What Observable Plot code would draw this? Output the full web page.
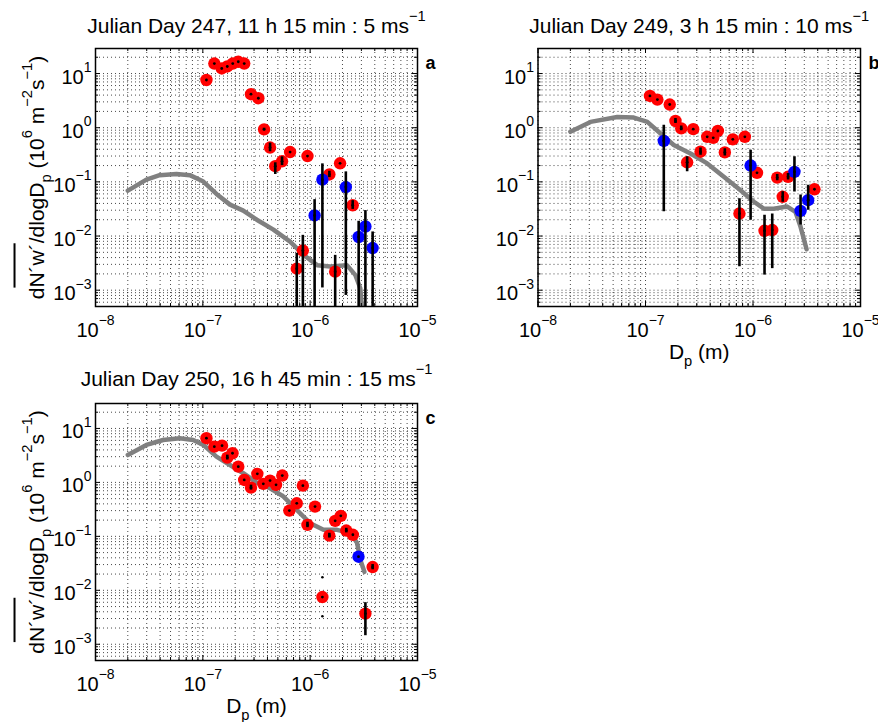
<!DOCTYPE html>
<html><head><meta charset="utf-8">
<script src="https://cdn.jsdelivr.net/npm/d3@7"></script>
<script src="https://cdn.jsdelivr.net/npm/@observablehq/plot@0.6"></script>
<style>
body{margin:0;background:#fff}
#wrap{position:relative;width:878px;height:722px;background:#fff}
#wrap svg{position:absolute;overflow:visible}
</style>
</head><body><div id="wrap"></div>
<script>
// ---------- axes / labels ----------
const xDomain = [1e-8, 1e-5];
const yDomain = [5e-4, 29];
const xTicks = [1e-8, 1e-7, 1e-6, 1e-5];
const xTickLabels = ["10^{−8}", "10^{−7}", "10^{−6}", "10^{−5}"];
const yTicks = [1e-3, 1e-2, 1e-1, 1e0, 1e1];
const yTickLabels = ["10^{−3}", "10^{−2}", "10^{−1}", "10^{0}", "10^{1}"];
const titles = ["Julian Day 247, 11 h 15 min : 5 ms^{−1}", "Julian Day 249, 3 h 15 min : 10 ms^{−1}", "Julian Day 250, 16 h 45 min : 15 ms^{−1}"];
const letters = ["a", "b", "c"];
const yLabel = "d~{N´w´}/dlogD_{p} (10^{6} m^{−2}s^{−1})";
const xLabel = "D_{p} (m)";

// ---------- panel a ----------
const aGrayD = [2.0e-8, 2.98e-8, 3.96e-8, 5.68e-8, 7.57e-8, 1.0e-7, 1.34e-7, 1.79e-7, 2.38e-7, 3.18e-7, 4.54e-7, 6.5e-7, 8.65e-7, 1.16e-6, 1.54e-6, 2.2e-6, 2.64e-6, 2.93e-6, 3.16e-6];
const aGrayV = [0.069, 0.11, 0.133, 0.14, 0.133, 0.103, 0.060, 0.038, 0.0295, 0.020, 0.0131, 0.0079, 0.0045, 0.0029, 0.00275, 0.0029, 0.0019, 0.00109, 0.0002];
const aRedD  = [1.08e-7, 1.28e-7, 1.50e-7, 1.69e-7, 1.90e-7, 2.14e-7, 2.43e-7, 2.81e-7, 3.29e-7, 3.72e-7, 4.23e-7, 4.73e-7, 5.47e-7, 6.5e-7, 9.44e-7, 1.9e-6, 1.51e-6, 2.49e-6, 8.55e-7, 7.5e-7, 1.71e-6];
const aRedV  = [7.6, 15.3, 12.4, 13.5, 15.3, 16.5, 15.3, 4.16, 3.5, 0.93, 0.43, 0.195, 0.24, 0.355, 0.30, 0.22, 0.137, 0.037, 0.0054, 0.0025, 0.0022];
const aRedLo = [7.6, 15.3, 12.4, 13.5, 15.3, 16.5, 15.3, 4.16, 3.5, 0.88, 0.36, 0.137, 0.2, 0.355, 0.30, 0.22, 0.12, 0.031, 1e-4, 1e-4, 1e-4];
const aRedHi = [7.6, 15.3, 12.4, 13.5, 15.3, 16.5, 15.3, 4.16, 3.5, 0.98, 0.52, 0.225, 0.29, 0.355, 0.30, 0.22, 0.157, 0.045, 0.0103, 0.0048, 0.0044];
const aBlueD  = [1.30e-6, 2.15e-6, 1.10e-6, 3.27e-6, 2.83e-6, 3.82e-6];
const aBlueV  = [0.11, 0.08, 0.024, 0.015, 0.0096, 0.006];
const aBlueLo = [0.0011, 0.0008, 1e-4, 1e-4, 1e-4, 1e-4];
const aBlueHi = [0.215, 0.153, 0.047, 0.0295, 0.0187, 0.0119];

// ---------- panel b ----------
const bGrayD = [2.0e-8, 3.08e-8, 5.46e-8, 7.78e-8, 1.04e-7, 1.38e-7, 1.83e-7, 2.62e-7, 3.75e-7, 5.35e-7, 7.65e-7, 1.02e-6, 1.26e-6, 1.56e-6, 2.08e-6, 2.48e-6, 2.77e-6, 3.15e-6];
const bGrayV = [0.84, 1.28, 1.58, 1.54, 1.28, 0.78, 0.48, 0.334, 0.219, 0.124, 0.070, 0.043, 0.032, 0.032, 0.035, 0.028, 0.0148, 0.0057];
const bRedD  = [1.10e-7, 1.29e-7, 1.68e-7, 1.9e-7, 2.15e-7, 2.78e-7, 3.75e-7, 4.27e-7, 4.71e-7, 6.49e-7, 8.4e-7, 3.25e-7, 5.47e-7, 2.44e-7, 1.09e-6, 1.68e-6, 2.12e-6, 1.89e-6, 3.73e-6, 7.48e-7, 1.28e-6, 1.51e-6];
const bRedV  = [3.86, 3.3, 2.68, 1.33, 0.97, 0.94, 0.68, 0.65, 0.87, 0.61, 0.68, 0.36, 0.35, 0.23, 0.147, 0.12, 0.124, 0.053, 0.073, 0.026, 0.0125, 0.0129];
const bRedLo = [3.86, 3.3, 2.68, 1.2, 0.88, 0.94, 0.68, 0.65, 0.87, 0.61, 0.68, 0.31, 0.30, 0.153, 0.147, 0.105, 0.108, 0.042, 0.073, 0.0027, 0.0019, 0.0025];
const bRedHi = [3.86, 3.3, 2.68, 1.48, 1.07, 0.94, 0.68, 0.65, 0.87, 0.61, 0.68, 0.42, 0.41, 0.29, 0.147, 0.137, 0.142, 0.066, 0.073, 0.049, 0.0243, 0.0254];
const bBlueD  = [1.48e-7, 9.5e-7, 2.43e-6, 3.26e-6, 2.77e-6];
const bBlueV  = [0.57, 0.20, 0.153, 0.046, 0.029];
const bBlueLo = [0.028, 0.0196, 0.065, 0.030, 0.016];
const bBlueHi = [1.11, 0.385, 0.29, 0.087, 0.057];

// ---------- panel c ----------
const cGrayD = [2.0e-8, 2.98e-8, 4.26e-8, 6.1e-8, 8.13e-8, 1.01e-7, 1.34e-7, 1.79e-7, 2.38e-7, 3.18e-7, 4.23e-7, 5.62e-7, 7.5e-7, 1.0e-6, 1.33e-6, 1.78e-6, 2.37e-6, 2.74e-6, 2.93e-6, 3.2e-6];
const cGrayV = [3.23, 4.95, 6.1, 6.6, 6.1, 4.95, 3.0, 2.1, 1.48, 0.99, 0.78, 0.55, 0.31, 0.175, 0.132, 0.132, 0.115, 0.075, 0.037, 0.022];
const cRedD  = [1.08e-7, 1.28e-7, 1.51e-7, 1.89e-7, 1.69e-7, 2.14e-7, 2.43e-7, 2.81e-7, 3.22e-7, 3.66e-7, 4.23e-7, 4.81e-7, 5.5e-7, 8.55e-7, 7.5e-7, 6.4e-7, 1.11e-6, 9.44e-7, 1.51e-6, 1.71e-6, 1.93e-6, 2.17e-6, 2.5e-6, 3.82e-6, 1.30e-6, 3.27e-6];
const cRedV  = [6.6, 4.6, 4.8, 3.47, 2.88, 1.96, 1.11, 0.80, 1.44, 0.94, 1.08, 0.90, 1.34, 0.87, 0.41, 0.30, 0.356, 0.163, 0.103, 0.194, 0.24, 0.128, 0.107, 0.027, 0.0075, 0.0037];
const cRedLo = [6.6, 4.6, 4.8, 3.47, 2.6, 1.96, 1.11, 0.72, 1.44, 0.94, 1.08, 0.90, 1.34, 0.87, 0.41, 0.30, 0.356, 0.145, 0.093, 0.194, 0.24, 0.116, 0.107, 0.024, 0.0075, 0.00144];
const cRedHi = [6.6, 4.6, 4.8, 3.47, 3.2, 1.96, 1.11, 0.89, 1.44, 0.94, 1.08, 0.90, 1.34, 0.87, 0.41, 0.30, 0.356, 0.183, 0.114, 0.194, 0.24, 0.141, 0.107, 0.030, 0.0075, 0.0059];
const cBlueD  = [2.82e-6];
const cBlueV  = [0.042];
const cBlueLo = [0.042];
const cBlueHi = [0.042];
const cCapD = [1.30e-6, 1.30e-6];
const cCapV = [0.0175, 0.0033];

// ---------- helpers ----------
const FONT = "'Liberation Sans', Arial, Helvetica, sans-serif";
const NS = "http://www.w3.org/2000/svg";
const zip = (D, V, Lo, Hi) => D.map((d, i) => ({D: d, v: V[i], lo: Lo ? Lo[i] : V[i], hi: Hi ? Hi[i] : V[i]}));

const xMajor = [], xMinor = [];
for (let e = -8; e <= -6; e++) { xMajor.push(Math.pow(10, e)); for (let m = 2; m <= 9; m++) xMinor.push(m * Math.pow(10, e)); }
xMajor.push(1e-5);
const yMajor = [], yMinor = [];
for (let e = -4; e <= 1; e++) {
  const p = Math.pow(10, e);
  if (p >= yDomain[0] && p <= yDomain[1]) yMajor.push(p);
  for (let m = 2; m <= 9; m++) { const v = m * p; if (v >= yDomain[0] && v <= yDomain[1]) yMinor.push(v); }
}

function panel(cfg) {
  const {W, H, ml, mr, mt, mb, gray, red, blue, caps, title, letter, showY, showX, titleDy} = cfg;
  const fw = W - ml - mr, fh = H - mt - mb;
  const ppdX = fw / Math.log10(xDomain[1] / xDomain[0]);
  const ppdY = fh / Math.log10(yDomain[1] / yDomain[0]);
  const fx = L => Math.pow(10, L / ppdX), fy = L => Math.pow(10, L / ppdY);
  const grid = {stroke: "#000", strokeWidth: 0.9, strokeDasharray: "1,3", strokeOpacity: 0.8};
  const tk = {stroke: "#000", strokeWidth: 1};
  const ticks = (vals, len) => [
    Plot.ruleX(vals, {x: d => d, y1: yDomain[0], y2: yDomain[0] * fy(len), ...tk}),
    Plot.ruleX(vals, {x: d => d, y1: yDomain[1] / fy(len), y2: yDomain[1], ...tk})
  ];
  const ticksY = (vals, len) => [
    Plot.ruleY(vals, {y: d => d, x1: xDomain[0], x2: xDomain[0] * fx(len), ...tk}),
    Plot.ruleY(vals, {y: d => d, x1: xDomain[1] / fx(len), x2: xDomain[1], ...tk})
  ];
  const marks = [
    Plot.ruleX([...xMajor, ...xMinor], {x: d => d, ...grid}),
    Plot.ruleY([...yMajor, ...yMinor], {y: d => d, ...grid}),
    Plot.line(gray, {x: "D", y: "v", stroke: "#808080", strokeWidth: 4.5, clip: true}),
    Plot.dot(red, {x: "D", y: "v", r: 6.2, fill: "#ff0000", stroke: null, clip: true}),
    Plot.dot(blue, {x: "D", y: "v", r: 6.2, fill: "#0000ff", stroke: null, clip: true}),
    Plot.ruleX([...red, ...blue].filter(d => d.hi > d.lo), {x: "D", y1: "lo", y2: "hi", stroke: "#000", strokeWidth: 2.6, clip: true}),
    Plot.dot([...red, ...blue], {x: "D", y: "v", r: 1.4, fill: "#000", stroke: null, clip: true}),
    Plot.dot(caps || [], {x: "D", y: "v", r: 1.3, fill: "#000", stroke: null}),
    ...ticks(xMajor, 5), ...ticks(xMinor, 3),
    ...ticksY(yMajor, 5), ...ticksY(yMinor, 3),
    Plot.frame({stroke: "#000", strokeWidth: 1.5}),
    Plot.text(xTicks, {x: d => d, frameAnchor: "bottom", dy: 30, text: (d, i) => xTickLabels[i], fontSize: 20, textAnchor: "middle"}),
    Plot.text(yTicks, {y: d => d, frameAnchor: "left", dx: -4, dy: 10, text: (d, i) => yTickLabels[i], fontSize: 20, textAnchor: "end"}),
    Plot.text([title], {frameAnchor: "top", dy: titleDy, text: d => d, fontSize: 21, textAnchor: "middle"}),
    Plot.text([letter], {frameAnchor: "top-right", dx: 8, dy: 20, text: d => d, fontSize: 18, fontWeight: "bold", textAnchor: "start"})
  ];
  if (showY) marks.push(Plot.text([yLabel], {frameAnchor: "left", dx: -52, rotate: -90, text: d => d, fontSize: 21, textAnchor: "middle"}));
  if (showX) marks.push(Plot.text([xLabel], {frameAnchor: "bottom", dy: 52, text: d => d, fontSize: 21, textAnchor: "middle"}));
  return Plot.plot({
    width: W, height: H,
    marginLeft: ml, marginRight: mr, marginTop: mt, marginBottom: mb,
    x: {type: "log", domain: xDomain, axis: null},
    y: {type: "log", domain: yDomain, axis: null},
    style: {fontFamily: FONT, background: "transparent", color: "#000", overflow: "visible"},
    marks
  });
}

function parse(s) {
  const segs = []; let i = 0, buf = "";
  while (i < s.length) {
    const c = s[i];
    if ((c === "^" || c === "_" || c === "~") && s[i + 1] === "{") {
      if (buf) segs.push({t: "n", s: buf}); buf = "";
      const j = s.indexOf("}", i);
      segs.push({t: c, s: s.slice(i + 2, j)}); i = j + 1;
    } else { buf += c; i++; }
  }
  if (buf) segs.push({t: "n", s: buf});
  return segs;
}

function rich(svg) {
  svg.querySelectorAll("text").forEach(el => {
    const s = el.textContent;
    if (!s) return;
    const base = parseFloat(getComputedStyle(el).fontSize) || 20;
    el.removeAttribute("y"); el.removeAttribute("dy");
    const segs = parse(s);
    el.textContent = "";
    let shift = 0, idx = 0; const ovl = [];
    for (const g of segs) {
      const ts = document.createElementNS(NS, "tspan");
      let target = 0, size = null;
      if (g.t === "^") { target = -0.57 * base; size = 0.7 * base; }
      else if (g.t === "_") { target = 0.35 * base; size = 0.7 * base; }
      const d = target - shift;
      if (d) ts.setAttribute("dy", d.toFixed(2));
      shift = target;
      if (size) ts.setAttribute("font-size", size.toFixed(1));
      ts.textContent = g.s;
      el.appendChild(ts);
      if (g.t === "~") ovl.push([idx, g.s.length]);
      idx += g.s.length;
    }
    for (const [i0, n] of ovl) {
      const x0 = el.getStartPositionOfChar(i0).x, x1 = el.getEndPositionOfChar(i0 + n - 1).x;
      const line = document.createElementNS(NS, "line");
      line.setAttribute("x1", x0); line.setAttribute("x2", x1);
      line.setAttribute("y1", -1.38 * base); line.setAttribute("y2", -1.38 * base);
      line.setAttribute("stroke", "#000"); line.setAttribute("stroke-width", 2);
      const tr = el.getAttribute("transform"); if (tr) line.setAttribute("transform", tr);
      el.parentNode.appendChild(line);
    }
  });
}

const wrap = document.getElementById("wrap");
const panels = [
  {left: 0, top: 0, cfg: {W: 439, H: 361, ml: 95, mr: 22, mt: 48, mb: 55, gray: zip(aGrayD, aGrayV), red: zip(aRedD, aRedV, aRedLo, aRedHi), blue: zip(aBlueD, aBlueV, aBlueLo, aBlueHi), title: titles[0], letter: letters[0], showY: true, showX: false, titleDy: -16}},
  {left: 439, top: 0, cfg: {W: 439, H: 361, ml: 98.5, mr: 18, mt: 48, mb: 55, gray: zip(bGrayD, bGrayV), red: zip(bRedD, bRedV, bRedLo, bRedHi), blue: zip(bBlueD, bBlueV, bBlueLo, bBlueHi), title: titles[1], letter: letters[1], showY: false, showX: true, titleDy: -16}},
  {left: 0, top: 361, cfg: {W: 439, H: 361, ml: 95, mr: 22, mt: 42, mb: 62, gray: zip(cGrayD, cGrayV), red: zip(cRedD, cRedV, cRedLo, cRedHi), blue: zip(cBlueD, cBlueV, cBlueLo, cBlueHi), caps: zip(cCapD, cCapV), title: titles[2], letter: letters[2], showY: true, showX: true, titleDy: -18}}
];
for (const p of panels) {
  const svg = panel(p.cfg);
  svg.style.left = p.left + "px"; svg.style.top = p.top + "px";
  wrap.appendChild(svg);
  rich(svg);
}
</script></body></html>
